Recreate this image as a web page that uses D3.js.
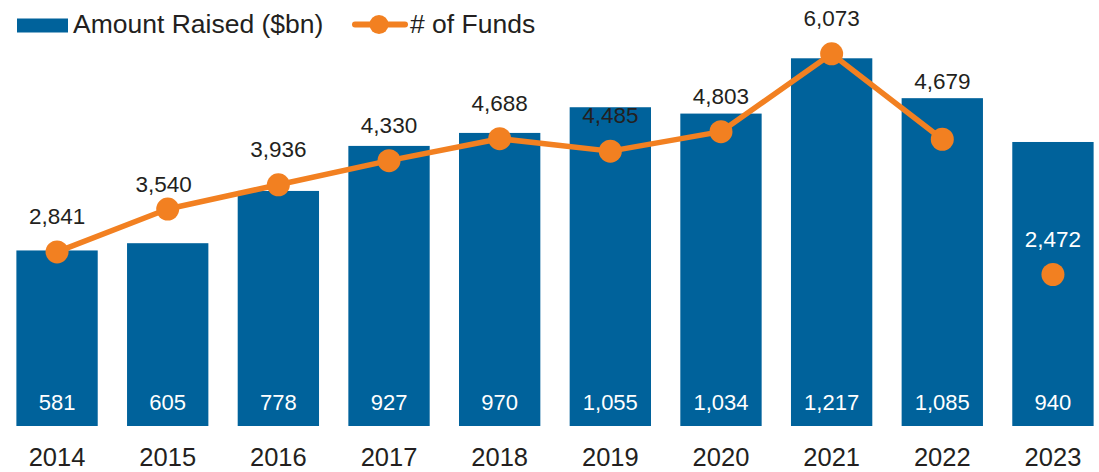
<!DOCTYPE html>
<html>
<head>
<meta charset="utf-8">
<script src="https://cdn.jsdelivr.net/npm/d3@7"></script>
<style>
  body { margin: 0; background: white; }
  svg { display: block; font-family: "Liberation Sans", Arial, sans-serif; }
</style>
</head>
<body>
<svg id="chart"></svg>
<script>
// Amount raised ($bn) and number of funds, 2014-2023
var years = ["2014", "2015", "2016", "2017", "2018", "2019", "2020", "2021", "2022", "2023"];
var amountRaised = [581, 605, 778, 927, 970, 1055, 1034, 1217, 1085, 940];
var numFunds = [2841, 3540, 3936, 4330, 4688, 4485, 4803, 6073, 4679, 2472];
// last year is shown as a separate dot, not joined to the line
var connected = [true, true, true, true, true, true, true, true, true, false];

var dimensions = {
    width: 1099,
    height: 472,
    baseline: 426
}

var blue = "#00629b";
var orange = "#f28021";

// a couple of fund labels were moved by hand in the original
var labelNudge = { "2015": { dx: -4, dy: 11 }, "2022": { dx: 0, dy: -22 } };

var svg = d3.select("#chart")
    .attr("width", dimensions.width)
    .attr("height", dimensions.height);

var xScale = d3.scaleBand()
    .domain(years)
    .range([2, 1108])
    .paddingInner(0.265)
    .paddingOuter(0.13);

var yBars = d3.scaleLinear()
    .domain([0, 1400])
    .range([dimensions.baseline, 3]);

var yLine = d3.scaleLinear()
    .domain([0, 7000])
    .range([dimensions.baseline, -3]);

var data = years.map((y, i) => ({
    year: y,
    amount: amountRaised[i],
    funds: numFunds[i],
    connected: connected[i]
}));

// bars
svg.selectAll(".bar")
    .data(data)
    .enter()
    .append("rect")
    .attr("class", "bar")
    .attr("x", d => xScale(d.year))
    .attr("width", xScale.bandwidth())
    .attr("y", d => yBars(d.amount))
    .attr("height", d => yBars(0) - yBars(d.amount))
    .attr("fill", blue);

// bar value labels
svg.selectAll(".bar-label")
    .data(data)
    .enter()
    .append("text")
    .attr("class", "bar-label")
    .attr("x", d => xScale(d.year) + xScale.bandwidth() / 2)
    .attr("y", dimensions.baseline - 16)
    .attr("text-anchor", "middle")
    .attr("fill", "white")
    .style("font-size", "22px")
    .text(d => d3.format(",")(d.amount));

// x axis labels
var xAxis = svg.append("g")
    .attr("transform", `translate(0,${dimensions.baseline})`)
    .call(d3.axisBottom(xScale).tickSize(0).tickPadding(22));
xAxis.select(".domain").remove();
xAxis.selectAll("text")
    .attr("fill", "#231f20")
    .style("font-size", "25.5px")
    .style("font-family", "Liberation Sans, Arial, sans-serif");

// line
var line = d3.line()
    .x(d => xScale(d.year) + xScale.bandwidth() / 2)
    .y(d => yLine(d.funds));

svg.append("path")
    .datum(data.filter(d => d.connected))
    .attr("d", line)
    .attr("fill", "none")
    .attr("stroke", orange)
    .attr("stroke-width", 5.5)
    .attr("stroke-linejoin", "round");

svg.selectAll(".dot")
    .data(data)
    .enter()
    .append("circle")
    .attr("class", "dot")
    .attr("cx", d => xScale(d.year) + xScale.bandwidth() / 2)
    .attr("cy", d => yLine(d.funds))
    .attr("r", 11.5)
    .attr("fill", orange);

svg.selectAll(".dot-label")
    .data(data)
    .enter()
    .append("text")
    .attr("class", "dot-label")
    .attr("x", d => xScale(d.year) + xScale.bandwidth() / 2 + (labelNudge[d.year] ? labelNudge[d.year].dx : 0))
    .attr("y", d => yLine(d.funds) - 28 + (labelNudge[d.year] ? labelNudge[d.year].dy : 0))
    .attr("text-anchor", "middle")
    .attr("fill", d => d.connected ? "#231f20" : "white")
    .style("font-size", "22.5px")
    .text(d => d3.format(",")(d.funds));

// legend
var legend = svg.append("g");
legend.append("rect")
    .attr("x", 17)
    .attr("y", 18.5)
    .attr("width", 51)
    .attr("height", 14)
    .attr("fill", blue);
legend.append("text")
    .attr("x", 73)
    .attr("y", 33)
    .attr("fill", "#231f20")
    .style("font-size", "26.5px")
    .text("Amount Raised ($bn)");
legend.append("line")
    .attr("x1", 355)
    .attr("x2", 405)
    .attr("y1", 24.5)
    .attr("y2", 24.5)
    .attr("stroke", orange)
    .attr("stroke-width", 6)
    .attr("stroke-linecap", "round");
legend.append("circle")
    .attr("cx", 379)
    .attr("cy", 24.5)
    .attr("r", 9.5)
    .attr("fill", orange);
legend.append("text")
    .attr("x", 410)
    .attr("y", 33)
    .attr("fill", "#231f20")
    .style("font-size", "26.5px")
    .text("# of Funds");
</script>
</body>
</html>
